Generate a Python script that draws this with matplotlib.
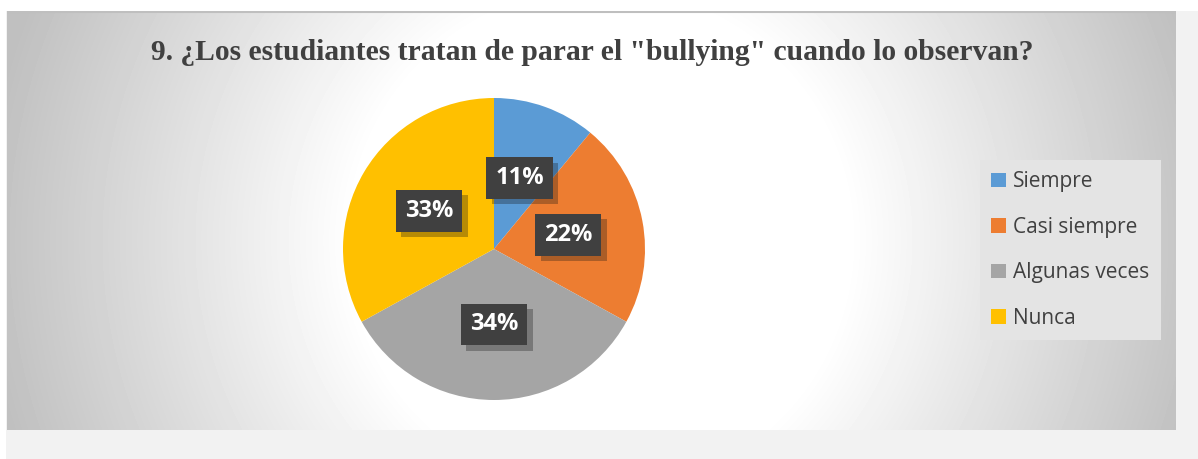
import numpy as np
import matplotlib.pyplot as plt
import matplotlib.patches as mpatches
import matplotlib.patheffects as pe

categorias = ['Siempre', 'Casi siempre', 'Algunas veces', 'Nunca']
porcentajes = [11, 22, 34, 33]
colores = ['#5B9BD5', '#ED7D31', '#A5A5A5', '#FFC000']
titulo = '9. ¿Los estudiantes tratan de parar el "bullying" cuando lo observan?'

W, H = 1198, 459
fig = plt.figure(figsize=(W / 100, H / 100), dpi=100, facecolor='#f2f2f2')

# bordes blancos arriba e izquierda
fig.patches.append(mpatches.Rectangle((0, 1 - 11 / H), 1, 11 / H, transform=fig.transFigure,
                                      facecolor='white', edgecolor='none', zorder=0))
fig.patches.append(mpatches.Rectangle((0, 0), 6 / W, 1, transform=fig.transFigure,
                                      facecolor='white', edgecolor='none', zorder=0))

# fondo del grafico con degradado radial
x0, x1, y0, y1 = 7, 1176, 11, 430
ax_bg = fig.add_axes([x0 / W, 1 - y1 / H, (x1 - x0) / W, (y1 - y0) / H])
xx, yy = np.meshgrid(np.arange(x0, x1), np.arange(y0, y1))
d = np.sqrt((xx - 600) ** 2 + (yy - 240) ** 2) / 620
fondo = 1 - 0.25 * np.clip((d - 0.4) / 0.6, 0, 1)
ax_bg.imshow(fondo, cmap='gray', vmin=0, vmax=1, aspect='auto', interpolation='bilinear')
ax_bg.axis('off')
ax_bg.plot([0, x1 - x0 - 1], [0, 0], color='#bfbfbf', lw=1.5)

fig.text(592 / W, 1 - 53 / H, titulo, ha='center', va='center', fontsize=21.3,
         fontweight='bold', family='Liberation Serif', color='#404040')

# pastel
cx, cy, r = 494, 249, 151
ax = fig.add_axes([(cx - r) / W, 1 - (cy + r) / H, 2 * r / W, 2 * r / H])
cunas, textos, autotextos = ax.pie(porcentajes, colors=colores, startangle=90, counterclock=False,
                                   autopct='%d%%', pctdistance=0.5, radius=1,
                                   wedgeprops=dict(linewidth=0))
ax.set_xlim(-1, 1)
ax.set_ylim(-1, 1)
ax.set_aspect('equal')

for t in autotextos:
    t.set_color('white')
    t.set_fontweight('bold')
    t.set_fontsize(17)
    t.set_family('Open Sans')
    t.set_bbox(dict(boxstyle='square,pad=0.38', facecolor='#404040', edgecolor='none'))
    # sombra de la caja
    t.get_bbox_patch().set_path_effects([pe.SimplePatchShadow(offset=(4, -4), alpha=0.3), pe.Normal()])

leg = fig.legend(cunas, categorias, loc='upper left', bbox_to_anchor=(980 / W, 1 - 160 / H),
                 frameon=True, fancybox=False, framealpha=1, facecolor='#e4e4e4', edgecolor='none',
                 prop={'family': 'Open Sans', 'size': 15}, labelcolor='#404040',
                 handlelength=0.7, handleheight=0.7, handletextpad=0.35, labelspacing=1.17,
                 borderpad=0.55, borderaxespad=0)

plt.savefig('out.png', dpi=100, facecolor=fig.get_facecolor())
